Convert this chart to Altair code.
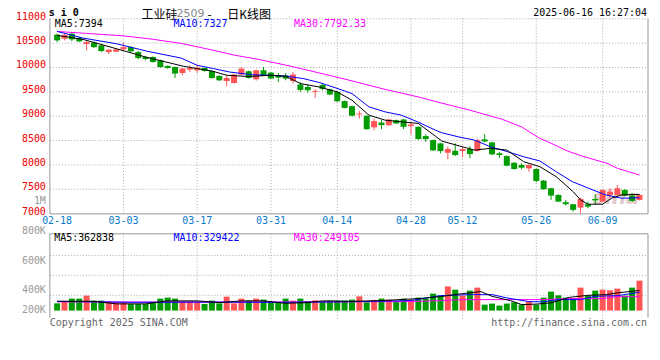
import altair as alt
import pandas as pd

# ---------------- data ----------------
dates = ["02-18", "02-19", "02-20", "02-21", "02-24", "02-25", "02-26", "02-27", "02-28",
         "03-03", "03-04", "03-05", "03-06", "03-07", "03-10", "03-11", "03-12", "03-13", "03-14",
         "03-17", "03-18", "03-19", "03-20", "03-21", "03-24", "03-25", "03-26", "03-27", "03-28",
         "03-31", "04-01", "04-02", "04-03", "04-07", "04-08", "04-09", "04-10", "04-11",
         "04-14", "04-15", "04-16", "04-17", "04-18", "04-21", "04-22", "04-23", "04-24", "04-25",
         "04-28", "04-29", "04-30", "05-06", "05-07", "05-08", "05-09",
         "05-12", "05-13", "05-14", "05-15", "05-16", "05-19", "05-20", "05-21", "05-22", "05-23",
         "05-26", "05-27", "05-28", "05-29", "05-30", "06-03", "06-04", "06-05", "06-06",
         "06-09", "06-10", "06-11", "06-12", "06-13", "06-16"]

opens = [10673, 10590, 10694, 10604, 10481, 10509, 10454, 10317, 10325, 10372,
         10419, 10317, 10215, 10215, 10147, 10030, 10010, 9887, 9957, 9942,
         9989, 9928, 9826, 9723, 9682, 9854, 9922, 9758, 9942, 9895,
         9840, 9840, 9723, 9650, 9600, 9500, 9640, 9550, 9500, 9310,
         9205, 9035, 9007, 8770, 8870, 8816, 8918, 8932, 8796, 8781,
         8591, 8509, 8441, 8249, 8290, 8284, 8325, 8284, 8523, 8462,
         8237, 8181, 8044, 7997, 7929, 7915, 7676, 7520, 7383, 7233,
         7192, 7123, 7192, 7301, 7246, 7383, 7383, 7485, 7369, 7281]
highs = [10694, 10690, 10714, 10630, 10540, 10530, 10470, 10380, 10380, 10509,
         10440, 10340, 10240, 10230, 10160, 10045, 10020, 9990, 10045, 10045,
         10000, 9940, 9840, 9840, 9870, 10010, 9935, 9957, 10010, 9910,
         9887, 9887, 9907, 9703, 9650, 9555, 9660, 9565, 9515, 9320,
         9215, 9110, 9020, 8950, 8918, 8945, 8930, 8945, 8884, 8795,
         8626, 8520, 8455, 8372, 8441, 8372, 8386, 8544, 8626, 8475,
         8270, 8190, 8055, 8032, 8010, 7925, 7690, 7530, 7395, 7281,
         7200, 7328, 7246, 7397, 7490, 7520, 7588, 7500, 7420, 7400]
lows = [10522, 10557, 10540, 10520, 10352, 10400, 10320, 10276, 10315, 10360,
        10320, 10170, 10150, 10100, 9995, 9975, 9785, 9840, 9907, 9895,
        9915, 9770, 9720, 9615, 9670, 9840, 9770, 9730, 9830, 9760,
        9703, 9737, 9670, 9498, 9480, 9375, 9533, 9430, 9290, 9160,
        8995, 8953, 8720, 8710, 8734, 8800, 8840, 8734, 8626, 8515,
        8474, 8285, 8237, 8114, 8181, 8160, 8134, 8270, 8462, 8200,
        8147, 7970, 7900, 7909, 7860, 7643, 7490, 7281, 7235, 7164,
        7041, 7008, 7110, 7178, 7240, 7315, 7369, 7355, 7240, 7270]
closes = [10557, 10670, 10577, 10536, 10522, 10419, 10337, 10366, 10372, 10419,
          10331, 10194, 10174, 10112, 10010, 9989, 9875, 9977, 9989, 9997,
          9928, 9785, 9737, 9785, 9854, 9977, 9785, 9942, 9840, 9772,
          9793, 9772, 9854, 9540, 9533, 9520, 9560, 9445, 9307, 9170,
          9010, 9055, 8734, 8900, 8816, 8932, 8851, 8781, 8830, 8530,
          8530, 8298, 8284, 8325, 8202, 8325, 8222, 8509, 8480, 8216,
          8202, 7983, 7915, 7942, 7997, 7670, 7500, 7369, 7246, 7192,
          7076, 7301, 7143, 7270, 7485, 7450, 7520, 7369, 7260, 7383]
volumes = [131000, 175000, 216000, 216000, 270000, 180000, 180000, 162000, 149000, 149000,
           121000, 121000, 121000, 153000, 216000, 234000, 216000, 166000, 166000, 153000,
           121000, 180000, 131000, 252000, 131000, 216000, 180000, 216000, 198000, 149000,
           149000, 216000, 180000, 216000, 171000, 185000, 167000, 180000, 180000, 180000,
           198000, 257000, 149000, 193000, 216000, 198000, 157000, 216000, 198000, 234000,
           216000, 306000, 270000, 437000, 378000, 270000, 360000, 414000, 108000, 126000,
           90000, 126000, 149000, 108000, 157000, 108000, 234000, 342000, 275000, 234000,
           216000, 414000, 270000, 360000, 378000, 365000, 396000, 270000, 414000, 540000]

# moving-average lines (position in trading days, value)
ma5_at = [0, 3.5, 8, 12, 17, 19, 21, 23, 26, 29, 31, 33, 35.5, 38, 40, 42.3, 44.5, 46.7, 49,
          51.3, 52.2, 56.6, 58.8, 61, 63.3, 65.5, 67.7, 70, 71, 72, 74, 75.2, 76.6, 79]
ma5_val = [10659, 10577, 10387, 10215, 10030, 9977, 9928, 9840, 9815, 9840, 9819, 9670, 9600,
           9498, 9328, 9021, 8918, 8884, 8851, 8591, 8488, 8304, 8339, 8304, 8065, 7962, 7758,
           7450, 7281, 7192, 7192, 7315, 7383, 7394]
ma10_at = [0, 3.5, 8, 12.3, 16.8, 19, 21.2, 23.4, 26.5, 29, 31.2, 33.4, 35.6, 37.8, 40, 42.3,
           44.5, 46.7, 48.9, 51.3, 52.2, 54.4, 56.6, 58.8, 61.1, 63.3, 65.5, 67.7, 69.9, 72.1,
           74.4, 76.6, 79]
ma10_val = [10740, 10604, 10489, 10331, 10194, 10045, 9977, 9907, 9850, 9840, 9819, 9772, 9690,
            9580, 9465, 9191, 9088, 9021, 8884, 8714, 8659, 8577, 8509, 8372, 8270, 8167, 8079,
            7860, 7655, 7520, 7383, 7315, 7327]
ma30_at = [0, 4, 9, 13, 17, 21, 24, 27, 31, 35.5, 40, 44.5, 49, 52, 56, 60.4, 63, 65.4, 67,
           69.3, 71.5, 74.6, 76, 79]
ma30_val = [10740, 10700, 10650, 10580, 10490, 10360, 10255, 10175, 10050, 9890, 9725, 9550,
            9395, 9275, 9123, 8935, 8780, 8550, 8445, 8280, 8167, 8032, 7930, 7792]

vma5_at = [0, 5, 8, 12, 15, 19, 22, 25, 28, 31, 34, 36, 40, 44, 49, 52, 55, 57.5, 59, 61.5,
           63, 65, 67, 69.5, 72, 74.5, 76, 79]
vma5_val = [167000, 167000, 121000, 121000, 175000, 175000, 144000, 175000, 175000, 131000,
            144000, 175000, 167000, 180000, 216000, 252000, 306000, 342000, 257000, 180000,
            108000, 117000, 139000, 239000, 275000, 288000, 319000, 362838]
vma10_at = [0, 10, 20, 30, 38, 43, 48, 52, 56, 59, 61, 64, 66, 68, 71, 73, 76, 79]
vma10_val = [167000, 149000, 153000, 149000, 157000, 167000, 180000, 270000, 288000, 288000,
             229000, 162000, 157000, 198000, 198000, 257000, 270000, 329422]
vma30_at = [0, 20, 38, 48, 52, 55, 62, 66, 69, 74, 76, 79]
vma30_val = [157000, 153000, 157000, 162000, 180000, 198000, 198000, 198000, 216000, 216000,
             252000, 249105]

price_ticks = [7000, 7500, 8000, 8500, 9000, 9500, 10000, 10500, 11000]
date_ticks = ["02-18", "03-03", "03-17", "03-31", "04-14", "04-28", "05-12", "05-26", "06-09"]
vol_tick_labels = ["1M", "800K", "600K", "400K", "200K"]

# ---------------- tables ----------------
df = pd.DataFrame({"i": list(range(len(dates))), "date": dates, "o": opens, "h": highs,
                   "l": lows, "c": closes, "vol": volumes})
df["dir"] = ["up" if c >= o else "down" for o, c in zip(opens, closes)]
df["zero"] = 0

pt = pd.DataFrame({"p": price_ticks, "t": [str(p) for p in price_ticks]})
dt = pd.DataFrame({"d": date_ticks, "i": [dates.index(d) for d in date_ticks]})
ONE = pd.DataFrame({"k": [0]})

# ---------------- style ----------------
W, H = 600, 300
MONO = "DejaVu Sans Mono"
CJK = "Noto Sans CJK SC"
RED, GREEN = "#ff5555", "#009c00"
GRID, FRAME = "#aaaaaa", "#999999"
PRICE_COL, DATE_COL, GRAY = "#ee0000", "#0a7ccc", "#999999"
C5, C10, C30 = "#000000", "#0000ff", "#ff00ff"

xs = alt.Scale(domain=[-0.306, 79.48], range=[0, W], nice=False, zero=False)
ps = alt.Scale(domain=[7000, 11000], range=[195.7, 0.3], nice=False, zero=False)
vs = alt.Scale(domain=[0, 1000000], range=[293, 237.4], nice=False, zero=False)
dir_color = alt.Color("dir:N", scale=alt.Scale(domain=["up", "down"], range=[RED, GREEN]),
                      legend=None)
X = alt.X("i:Q", scale=xs, axis=None)


def txt(s, x, y, color, size=10, align="left", font=MONO, weight="normal", baseline="middle",
        style="normal", opacity=1.0):
    return alt.Chart(ONE).mark_text(text=s, align=align, baseline=baseline, font=font,
                                    fontSize=size, color=color, fontWeight=weight,
                                    fontStyle=style, opacity=opacity).encode(
        x=alt.value(x), y=alt.value(y))


def seg(x0, x1, y0, y1, color, dash=None):
    kw = dict(color=color, strokeWidth=1)
    if dash:
        kw["strokeDash"] = dash
    return alt.Chart(ONE).mark_rule(**kw).encode(
        x=alt.value(x0), x2=alt.value(x1), y=alt.value(y0), y2=alt.value(y1))


def ma_line(at, vals, scale, color):
    d = pd.DataFrame({"i": at, "v": vals})
    return alt.Chart(d).mark_line(strokeWidth=1, color=color).encode(
        x=X, y=alt.Y("v:Q", scale=scale, axis=None))


layers = []
# price grid
layers.append(alt.Chart(pt[(pt.p > 7000)]).mark_rule(color=GRID, strokeDash=[1, 2]).encode(
    y=alt.Y("p:Q", scale=ps, axis=None), x=alt.value(0), x2=alt.value(W)))
layers.append(alt.Chart(dt[dt.i > 0]).mark_rule(color=GRID, strokeDash=[1, 2]).encode(
    x=X, y=alt.value(0), y2=alt.value(196)))
layers.append(alt.Chart(dt[dt.i > 0]).mark_rule(color=GRID, strokeDash=[1, 2]).encode(
    x=X, y=alt.value(216), y2=alt.value(302)))
# volume grid
for gy in [237.7, 257.7, 277.7]:
    layers.append(seg(0, W, gy, gy, GRID, [1, 2]))
# frames
layers += [seg(0, 0, 0, 196, FRAME), seg(W, W, 0, 196, FRAME), seg(0, W, 196, 196, FRAME),
           seg(0, 0, 216, 300, FRAME), seg(W, W, 216, 300, FRAME), seg(0, W, 216, 216, FRAME)]

# faint watermark
layers.append(txt("sina", 568, 180, "#d6b4b4", size=20, font="DejaVu Sans", weight="bold",
                  style="italic", align="center", opacity=0.7))

# candles
layers.append(alt.Chart(df).mark_rule(strokeWidth=1).encode(
    x=X, y=alt.Y("l:Q", scale=ps, axis=None), y2="h:Q", color=dir_color))
layers.append(alt.Chart(df).mark_bar(size=6).encode(
    x=X, y=alt.Y("o:Q", scale=ps, axis=None), y2="c:Q", color=dir_color))
layers += [ma_line(ma30_at, ma30_val, ps, C30), ma_line(ma10_at, ma10_val, ps, C10),
           ma_line(ma5_at, ma5_val, ps, C5)]

# volume
layers.append(alt.Chart(df).mark_bar(size=6).encode(
    x=X, y=alt.Y("vol:Q", scale=vs, axis=None), y2="zero:Q", color=dir_color))
layers += [ma_line(vma30_at, vma30_val, vs, C30), ma_line(vma10_at, vma10_val, vs, C10),
           ma_line(vma5_at, vma5_val, vs, C5)]

# axis labels
layers.append(alt.Chart(pt).mark_text(align="right", baseline="middle", font=MONO, fontSize=10,
                                      color=PRICE_COL, dy=-2).encode(
    y=alt.Y("p:Q", scale=ps, axis=None), x=alt.value(-4), text="t:N"))
layers.append(alt.Chart(dt).mark_text(align="center", baseline="middle", font=MONO, fontSize=10,
                                      color=DATE_COL).encode(
    x=alt.X("i:Q", scale=xs, axis=None), y=alt.value(203), text="d:N"))
for lab, ly in zip(vol_tick_labels, [182.7, 213, 243, 272, 292]):
    layers.append(txt(lab, -4, ly, GRAY, align="right"))

# titles and legends
TOP = -10
layers += [
    txt("s i 0", -1, TOP, "#000000", size=10, weight="bold", baseline="top"),
    txt("工业硅", 92, TOP + 2, "#000000", size=12, font=CJK, baseline="top"),
    txt("2509", 127, TOP, "#888888", size=11, font="DejaVu Sans", baseline="top"),
    txt("-", 158, TOP + 2, "#000000", size=12, font=CJK, baseline="top"),
    txt("日K线图", 178, TOP + 2, "#000000", size=12, font=CJK, baseline="top"),
    txt("2025-06-16 16:27:04", 599, TOP, "#000000", align="right", baseline="top"),
    txt("MA5:7394", 5, 6, C5),
    txt("MA10:7327", 124, 6, C10),
    txt("MA30:7792.33", 245, 6, C30),
    txt("MA5:362838", 4.3, 220.5, C5),
    txt("MA10:329422", 124, 220.5, C10),
    txt("MA30:249105", 244.7, 220.5, C30),
    txt("Copyright 2025 SINA.COM", 0, 305.5, "#666666"),
    txt("http://finance.sina.com.cn", 599, 305.5, "#666666", align="right"),
]

chart = alt.layer(*layers).resolve_scale(y="independent").properties(
    width=W, height=H,
    autosize=alt.AutoSizeParams(type="none"),
    padding={"left": 42, "top": 10, "right": 4, "bottom": 24},
).configure_view(stroke=None)

chart.save("out.html", embed_options={"renderer": "svg", "actions": False})
